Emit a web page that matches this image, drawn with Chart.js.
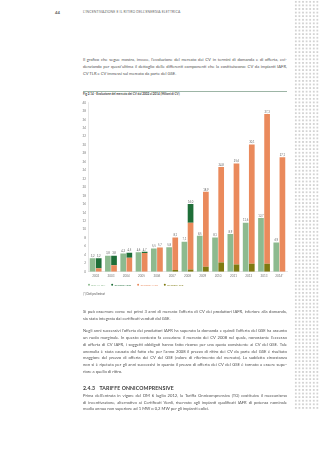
<!DOCTYPE html>
<html><head><meta charset="utf-8">
<title>Fig 2.14 - Evoluzione del mercato dei CV</title>
<script src="https://cdn.jsdelivr.net/npm/chart.js"></script>
<style>
html, body { margin: 0; padding: 0; }
body {
  width: 320px; height: 453px; position: relative; overflow: hidden;
  background: #fff; font-family: Lato, "Open Sans", sans-serif; color: #505050;
}
.dots {
  position: absolute; left: 294px; top: 0; width: 26px; height: 410px;
  background-image: radial-gradient(circle at center, #bcbcbc 0 0.55px, transparent 0.8px);
  background-size: 3.6px 3.6px;
}
.t { position: absolute; left: 83px; width: 204px; font-size: 4.15px; line-height: 5px; height: 5px; white-space: nowrap; }
.j { display: flex; justify-content: space-between; }
.head { position: absolute; top: 10px; left: 83px; font-size: 3.4px; letter-spacing: 0.15px; color: #666; }
.num { position: absolute; top: 9.5px; left: 55px; font-size: 4.2px; font-weight: bold; color: #555; }
.rule { position: absolute; left: 83px; width: 204px; top: 90.5px; height: 0; border-top: 0.5px solid #9db5a6; }
.cap { position: absolute; left: 83px; top: 91.5px; font-size: 3px; color: #444; font-weight: bold; }
.note { position: absolute; left: 83px; top: 291.8px; font-size: 2.8px; color: #555; }
.h3 { position: absolute; left: 83px; top: 385px; font-size: 5.2px; font-weight: bold; color: #3a3a3a; letter-spacing: 0.1px; }
.h3 span { display: inline-block; width: 16.5px; }
#wrap { position: absolute; left: 78px; top: 97px; width: 214px; height: 199px; }
</style>
</head>
<body>
<div class="dots"></div>
<div class="num">44</div>
<div class="head">L'INCENTIVAZIONE E IL RITIRO DELL'ENERGIA ELETTRICA</div>

<div class="t j" style="top:57px">Il grafico che segue mostra, invece, l'evoluzione del mercato dei CV in termini di domanda e di offerta, evi-</div>
<div class="t j" style="top:63.8px">denziando per quest'ultima il dettaglio delle differenti componenti che la costituiscono: CV da impianti IAFR,</div>
<div class="t" style="top:70.6px">CV TLR e CV immessi sul mercato da parte del GSE.</div>

<div class="rule"></div>
<div class="cap">Fig 2.14 - Evoluzione del mercato dei CV dal 2002 al 2014 (Milioni di CV)</div>

<div id="wrap"><canvas id="chart"></canvas></div>
<div class="note">(*) Dati preliminari</div>

<div class="t j" style="top:309.2px">Si può osservare come nei primi 3 anni di mercato l'offerta di CV dei produttori IAFR, inferiore alla domanda,</div>
<div class="t" style="top:316px">sia stata integrata dai certificati venduti dal GSE.</div>

<div class="t j" style="top:328.2px">Negli anni successivi l'offerta dei produttori IAFR ha superato la domanda e quindi l'offerta del GSE ha assunto</div>
<div class="t j" style="top:335px">un ruolo marginale. In questo contesto fa eccezione il mercato dei CV 2008 nel quale, nonostante l'eccesso</div>
<div class="t j" style="top:341.8px">di offerta di CV IAFR, i soggetti obbligati hanno fatto ricorso per una quota consistente ai CV del GSE. Tale</div>
<div class="t j" style="top:348.6px">anomalia è stata causata dal fatto che per l'anno 2008 il prezzo di ritiro dei CV da parte del GSE è risultato</div>
<div class="t j" style="top:355.4px">maggiore del prezzo di offerta dei CV del GSE (valore di riferimento del mercato). La suddetta circostanza</div>
<div class="t j" style="top:362.2px">non si è ripetuta per gli anni successivi in quanto il prezzo di offerta dei CV del GSE è tornato a essere supe-</div>
<div class="t" style="top:369px">riore a quello di ritiro.</div>

<div class="h3"><span>2.4.3</span>TARIFFE ONNICOMPRENSIVE</div>
<div class="t j" style="top:392.8px">Prima dell'entrata in vigore del DM 6 luglio 2012, la Tariffa Onnicomprensiva (TO) costituiva il meccanismo</div>
<div class="t j" style="top:399.6px">di incentivazione, alternativo ai Certificati Verdi, riservato agli impianti qualificati IAFR di potenza nominale</div>
<div class="t" style="top:406.4px">media annua non superiore ad 1 MW o 0,2 MW per gli impianti eolici.</div>

<script>
// dati (milioni di CV)
const years = ['2002', '2003', '2004', '2005', '2006', '2007', '2008', '2009', '2010', '2011', '2012', '2013', '2014*'];
const domanda = [3.2, 3.8, 4.3, 4.6, 5.5, 5.8, 7.1, 8.5, 8.1, 8.9, 11.6, 12.7, 6.9];
const offertaTLR = [0, 0, 0, 0, 0, 0.4, 0.5, 1.2, 2.2, 1.7, 1.9, 1.9, 0];
const offertaIAFR = [0.8, 1.5, 3.3, 4.4, 5.7, 7.7, 11.1, 17.7, 22.6, 23.9, 28.2, 35.4, 27.1];
const offertaGSE = [2.4, 2.3, 1.2, 0.3, 0, 0, 4.4, 0, 0, 0, 0, 0, 0];

// split justified lines into words
document.querySelectorAll('.j').forEach(el => {
  const words = el.textContent.split(' ');
  el.textContent = '';
  words.forEach(w => {
    const s = document.createElement('span');
    s.textContent = w;
    el.appendChild(s);
  });
});

const fmt = v => v.toFixed(1).replace('.', ',');

const valueLabels = {
  id: 'valueLabels',
  afterDatasetsDraw(chart) {
    const ctx = chart.ctx;
    const dMeta = chart.getDatasetMeta(0);
    const topMeta = chart.getDatasetMeta(3);
    ctx.save();
    ctx.font = '2.7px Lato';
    ctx.fillStyle = '#666';
    ctx.textAlign = 'center';
    ctx.textBaseline = 'bottom';
    dMeta.data.forEach((bar, i) => {
      ctx.fillText(fmt(domanda[i]), bar.x, bar.y - 0.8);
      const tot = offertaTLR[i] + offertaIAFR[i] + offertaGSE[i];
      const tb = topMeta.data[i];
      ctx.fillText(fmt(tot), tb.x, tb.y - 0.8);
    });
    ctx.restore();
  }
};

const legendRank = {0: 0, 3: 1, 2: 2, 1: 3};

const ctx = document.getElementById('chart').getContext('2d');
new Chart(ctx, {
  type: 'bar',
  data: {
    labels: years,
    datasets: [
      { label: 'DOMANDA', data: domanda, backgroundColor: '#8dba8f', stack: 'd' },
      { label: 'OFFERTA TLR', data: offertaTLR, backgroundColor: '#7f7a10', stack: 'o' },
      { label: 'OFFERTA IAFR', data: offertaIAFR, backgroundColor: '#ea8a5c', stack: 'o' },
      { label: 'OFFERTA GSE', data: offertaGSE, backgroundColor: '#1e6e38', stack: 'o' }
    ]
  },
  options: {
    responsive: true,
    maintainAspectRatio: false,
    animation: false,
    devicePixelRatio: 1,
    categoryPercentage: 0.8,
    barPercentage: 0.93,
    layout: { padding: { top: 5.7, right: 5, left: 4, bottom: 0 } },
    plugins: {
      tooltip: { enabled: false },
      legend: {
        position: 'bottom',
        align: 'start',
        labels: {
          font: { size: 2.6, family: 'Lato' },
          usePointStyle: true,
          pointStyle: 'circle',
          boxWidth: 2,
          boxHeight: 1.4,
          padding: 6,
          sort: (a, b) => legendRank[a.datasetIndex] - legendRank[b.datasetIndex],
          generateLabels(chart) {
            const items = Chart.defaults.plugins.legend.labels.generateLabels(chart);
            items.forEach(it => { it.fontColor = it.fillStyle; it.lineWidth = 0; });
            return items;
          }
        }
      }
    },
    scales: {
      x: {
        stacked: true,
        grid: { display: false, drawTicks: false },
        border: { display: true, color: '#cfcfcf', width: 0.5 },
        ticks: { font: { size: 3, family: 'Lato' }, color: '#777', padding: 3, maxRotation: 0, autoSkip: false },
        afterFit(scale) { scale.height = 5.7; }
      },
      y: {
        stacked: true,
        min: 0,
        max: 40,
        grid: { display: false, drawTicks: false },
        border: { display: true, color: '#cfcfcf', width: 0.5 },
        ticks: { stepSize: 2, font: { size: 3, family: 'Lato' }, color: '#777', padding: 2 },
        afterFit(scale) { scale.width = 6; }
      }
    }
  },
  plugins: [valueLabels]
});
</script>
</body></html>
